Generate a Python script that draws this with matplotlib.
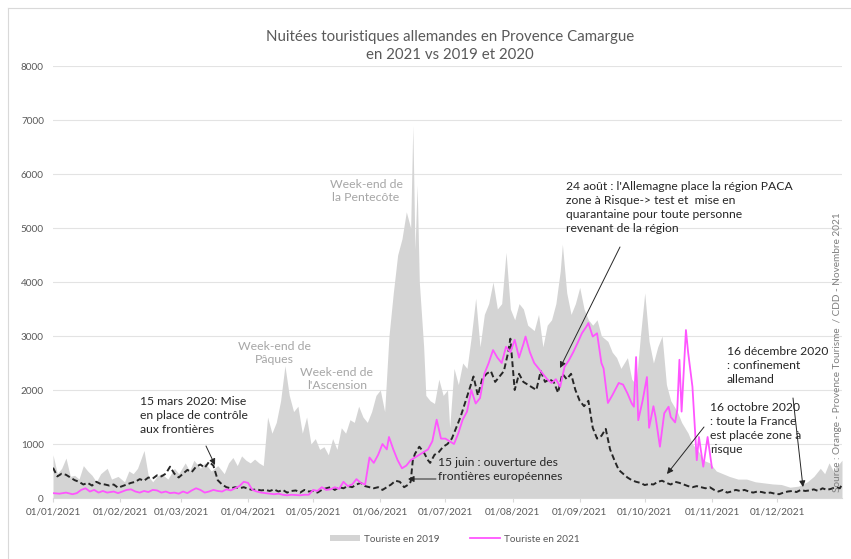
import numpy as np
import matplotlib
matplotlib.use("Agg")
import matplotlib.pyplot as plt
import matplotlib.dates as mdates
from matplotlib.lines import Line2D
from matplotlib.patches import Patch

# ---------------- data (day offset from 1 Jan, value) ----------------
days_2019 = [0, 2, 4, 6, 8, 10, 12, 14, 16, 18, 20, 22, 25, 27, 30, 33, 35, 37, 39, 42, 44, 46, 48, 50,
             53, 56, 58, 61, 63, 65, 68, 70, 73, 76, 79, 81, 83, 85, 87, 89, 91, 93, 95, 97, 99, 101,
             103, 105, 107, 109, 111, 113, 115, 117, 119, 121, 123, 125, 127, 129, 131, 133, 135, 137,
             139, 141, 143, 145, 147, 149, 151, 153, 155, 157, 159, 161, 163, 165, 166, 167, 168, 169,
             171, 172, 174, 176, 178, 180, 182, 183, 185, 187, 189, 191, 193, 195, 197, 199, 201, 203,
             205, 207, 209, 211, 213, 215, 217, 219, 222, 224, 226, 228, 230, 232, 234, 235, 237, 239,
             241, 243, 245, 247, 249, 251, 253, 256, 258, 260, 262, 265, 267, 269, 271, 273, 275, 277,
             279, 281, 283, 285, 288, 290, 293, 295, 298, 300, 303, 306, 309, 312, 316, 320, 324, 328,
             332, 336, 340, 344, 348, 351, 354, 356, 358, 360, 362, 364]
vals_2019 = [800, 450, 550, 740, 400, 420, 350, 600, 500, 420, 300, 450, 550, 350, 400, 300, 500, 450, 550, 880,
             400, 300, 400, 450, 350, 550, 450, 650, 500, 700, 550, 650, 500, 600, 450, 650, 750, 600, 780, 700,
             650, 720, 650, 600, 1500, 1200, 1400, 1800, 2450, 1900, 1600, 1700, 1200, 1500, 1000, 1100, 900,
             950, 800, 1100, 900, 1300, 1200, 1450, 1400, 1700, 1500, 1400, 1600, 1900, 2000, 1600, 3000, 3800,
             4500, 4800, 5300, 5000, 6900, 4600, 5800, 4000, 2800, 1900, 1800, 1750, 2200, 1900, 2000, 1300,
             2400, 2100, 2500, 2400, 3000, 3700, 2800, 3400, 3600, 4000, 3500, 3600, 4550, 3500, 3300, 3600,
             3500, 3200, 3100, 3400, 2800, 3200, 3300, 3600, 4200, 4700, 3800, 3400, 3600, 3900, 3500, 3300,
             3200, 3300, 3000, 2900, 2700, 2600, 2400, 2600, 2200, 2100, 3000, 3800, 2900, 2500, 2800, 3000,
             2100, 1800, 1600, 1400, 1200, 1000, 850, 700, 650, 500, 450, 400, 350, 350, 300, 280, 260, 250,
             200, 220, 300, 400, 550, 450, 650, 500, 600, 700]

days_2020 = [0, 2, 4, 6, 8, 10, 12, 14, 16, 18, 20, 22, 24, 26, 28, 30, 32, 34, 36, 38, 40, 42, 44, 46, 48,
             50, 52, 54, 56, 58, 60, 62, 64, 66, 68, 70, 72, 74, 76, 78, 80, 82, 84, 86, 88, 90, 92, 94, 96,
             98, 100, 102, 104, 106, 108, 110, 112, 114, 116, 118, 120, 122, 124, 126, 128, 130, 132, 134,
             136, 138, 140, 142, 144, 146, 148, 150, 152, 154, 156, 158, 160, 162, 164, 165, 166, 167, 169,
             171, 173, 174, 176, 178, 180, 182, 184, 186, 188, 190, 192, 194, 196, 198, 200, 202, 204, 206,
             208, 210, 211, 213, 215, 217, 219, 221, 223, 225, 227, 229, 231, 233, 235, 237, 239, 241, 243,
             245, 247, 249, 251, 253, 255, 257, 259, 261, 263, 265, 267, 269, 271, 273, 275, 277, 279, 281,
             283, 285, 287, 289, 291, 293, 295, 297, 299, 301, 303, 305, 307, 309, 311, 313, 315, 317, 319,
             321, 323, 325, 327, 329, 331, 333, 335, 337, 339, 341, 343, 345, 347, 349, 351, 353, 355, 357,
             359, 361, 363, 364]
vals_2020 = [560, 400, 450, 430, 380, 330, 300, 250, 280, 230, 300, 260, 250, 230, 250, 190, 220, 250, 280,
             300, 350, 320, 380, 360, 420, 400, 450, 580, 450, 380, 450, 520, 480, 580, 620, 560, 670, 600,
             330, 250, 200, 180, 200, 180, 200, 170, 150, 160, 140, 150, 130, 160, 120, 150, 100, 130, 140,
             100, 150, 120, 130, 100, 150, 180, 200, 150, 200, 180, 220, 200, 250, 280, 220, 200, 180, 200,
             150, 200, 250, 320, 300, 200, 250, 300, 700, 820, 950, 850, 700, 650, 800, 850, 950, 1000, 1100,
             1300, 1500, 1750, 2000, 2250, 1900, 2200, 2300, 2350, 2150, 2250, 2350, 2700, 2950, 2000, 2300,
             2150, 2100, 2050, 2000, 2350, 2150, 2200, 2150, 1950, 2300, 2200, 2300, 2000, 1800, 1700, 1800,
             1300, 1100, 1150, 1280, 900, 700, 520, 450, 380, 330, 300, 280, 240, 260, 250, 300, 320, 280,
             250, 300, 280, 250, 220, 200, 220, 200, 180, 200, 150, 120, 150, 100, 120, 150, 130, 150, 120,
             100, 120, 110, 90, 100, 80, 70, 100, 120, 130, 110, 150, 130, 140, 160, 130, 180, 150, 170, 200,
             180, 250]

days_2021 = [0, 3, 6, 9, 11, 13, 15, 17, 19, 21, 23, 25, 28, 30, 32, 34, 36, 38, 40, 42, 44, 46, 48, 50, 52,
             54, 56, 58, 60, 62, 64, 66, 68, 70, 72, 74, 76, 78, 80, 82, 84, 86, 88, 90, 92, 94, 96, 98, 100,
             102, 104, 106, 108, 110, 112, 114, 116, 118, 120, 122, 124, 126, 128, 130, 132, 134, 136, 138,
             140, 142, 144, 146, 148, 150, 152, 154, 155, 157, 159, 161, 163, 165, 167, 169, 171, 173, 175,
             177, 179, 181, 183, 185, 187, 189, 191, 193, 195, 197, 199, 201, 203, 205, 207, 209, 211, 213,
             215, 217, 218, 220, 222, 224, 226, 228, 230, 232, 234, 236, 238, 240, 242, 244, 246, 247, 249,
             251, 253, 254, 256, 258, 261, 263, 265, 267, 268, 269, 270, 272, 274, 275, 277, 278, 280, 282,
             284, 285, 287, 288, 289, 290, 292, 293, 295, 297, 298, 300, 302, 304]
vals_2021 = [90, 80, 100, 70, 90, 150, 180, 120, 150, 100, 130, 100, 120, 90, 120, 150, 160, 120, 100, 130,
             110, 150, 140, 100, 120, 90, 100, 80, 120, 90, 140, 180, 150, 100, 120, 150, 130, 120, 160, 140,
             180, 220, 300, 280, 150, 120, 100, 90, 80, 70, 80, 60, 50, 60, 55, 50, 60, 60, 150, 130, 200,
             150, 160, 200, 170, 300, 220, 250, 350, 280, 250, 750, 650, 800, 1000, 900, 1130, 900, 700, 550,
             600, 700, 750, 800, 850, 900, 1050, 1450, 1100, 1100, 1050, 1000, 1200, 1450, 1600, 2000, 1750,
             1850, 2300, 2500, 2740, 2600, 2500, 2800, 2700, 2930, 2600, 2850, 2990, 2700, 2500, 2400, 2300,
             2200, 2130, 2200, 2060, 2430, 2550, 2700, 2870, 3050, 3170, 3240, 2990, 3050, 2500, 2400, 1760,
             1900, 2130, 2100, 1940, 1750, 1690, 2610, 1440, 1800, 2240, 1300, 1700, 1500, 950, 1570, 1690,
             1500, 1400, 1630, 2560, 1600, 3110, 2700, 2060, 700, 1130, 580, 1130, 560]

y_ticks = [0, 1000, 2000, 3000, 4000, 5000, 6000, 7000, 8000]
month_starts = ["2021-%02d-01" % m for m in range(1, 13)]

title_text = "Nuitées touristiques allemandes en Provence Camargue\nen 2021 vs 2019 et 2020"
legend_labels = ["Touriste en 2019", "Touriste en 2021"]
source_text = "Source : Orange - Provence Tourisme  / CDD - Novembre 2021"

# ---------------- styling ----------------
W, H = 851, 559
FONT = ["Lato", "DejaVu Sans"]
plt.rcParams["font.family"] = FONT
GRAY_TXT = "#595959"
AREA = "#D4D4D4"
MAGENTA = "#FF55FF"
DARK = "#262626"

start = np.datetime64("2021-01-01")
def to_dates(d):
    return start + np.array(d, dtype="timedelta64[D]")

fig = plt.figure(figsize=(W / 100, H / 100), dpi=100)
fig.patch.set_facecolor("white")

def fx(px):
    return px / W
def fy(py):
    return 1 - py / H

ax = fig.add_axes([fx(53), fy(498), (842 - 53) / W, (498 - 66) / H])

d19 = to_dates(days_2019)
d20 = to_dates(days_2020)
d21 = to_dates(days_2021)

ax.fill_between(d19, 0, vals_2019, color=AREA, linewidth=0, zorder=2)
ax.plot(d20, vals_2020, color=DARK, linewidth=1.4, linestyle=(0, (3, 1.6)), zorder=3)
ax.plot(d21, vals_2021, color=MAGENTA, linewidth=1.3, zorder=4)

ax.set_ylim(0, 8000)
ax.set_xlim(start, np.datetime64("2021-12-31"))
ax.set_yticks(y_ticks)
ax.set_xticks([np.datetime64(m) for m in month_starts])
ax.xaxis.set_major_formatter(mdates.DateFormatter("%d/%m/%Y"))
ax.grid(axis="y", color="#E3E3E3", linewidth=0.8, zorder=0)
ax.set_axisbelow(True)
for s in ["top", "right", "left"]:
    ax.spines[s].set_visible(False)
ax.spines["bottom"].set_color("#D9D9D9")
ax.tick_params(axis="y", length=0, labelsize=7.2, labelcolor=GRAY_TXT, pad=6.5)
ax.tick_params(axis="x", length=3, color="#D9D9D9", labelsize=7.2, labelcolor=GRAY_TXT, pad=4)

# title
fig.text(fx(450), fy(46), title_text, ha="center", va="center", fontsize=10.8,
         color=GRAY_TXT, linespacing=1.3)

# gray annotations (weekends)
for txt, x, y in [("Week-end de\nPâques", 274, 353),
                  ("Week-end de\nl'Ascension", 337, 379),
                  ("Week-end de\nla Pentecôte", 366, 191)]:
    fig.text(fx(x), fy(y), txt, ha="center", va="center", fontsize=8.8,
             color="#A6A6A6", linespacing=1.3)

# black annotations with arrows
def note(txt, x, y):
    fig.text(fx(x), fy(y), txt, ha="left", va="top", fontsize=8.7, color=DARK,
             linespacing=1.32)

def arrow(x0, y0, x1, y1):
    ax.annotate("", xy=(fx(x1), fy(y1)), xycoords="figure fraction",
                xytext=(fx(x0), fy(y0)), textcoords="figure fraction",
                arrowprops=dict(arrowstyle="-|>", color=DARK, lw=0.7,
                                mutation_scale=9, shrinkA=0, shrinkB=0),
                annotation_clip=False, zorder=6)

note("15 mars 2020: Mise\nen place de contrôle\naux frontières", 140, 396)
arrow(206, 446, 215, 465)

note("15 juin : ouverture des\nfrontières européennes", 438, 457)
arrow(436, 479, 408, 479)

note("24 août : l'Allemagne place la région PACA\nzone à Risque-> test et  mise en\n"
     "quarantaine pour toute personne\nrevenant de la région", 566, 181)
arrow(620, 247, 560, 368)

note("16 octobre 2020\n: toute la France\nest placée zone à\nrisque", 710, 402)
arrow(704, 427, 667, 474)

note("16 décembre 2020\n: confinement\nallemand", 727, 346)
arrow(793, 398, 803, 487)

# source vertical text
fig.text(fx(838), fy(352), source_text, rotation=90, ha="center", va="center",
         fontsize=7.2, color="#7F7F7F")

# legend
handles = [Patch(facecolor=AREA, edgecolor="none"),
           Line2D([0], [0], color=MAGENTA, linewidth=1.3)]
fig.legend(handles, legend_labels, loc="center", bbox_to_anchor=(fx(455), fy(539)),
           ncol=2, frameon=False, fontsize=7.2, labelcolor=GRAY_TXT,
           handlelength=3.0, handleheight=0.5, columnspacing=3.0, handletextpad=0.4)

# chart border (left & top)
fig.add_artist(Line2D([fx(8), fx(8)], [0, fy(8)], color="#D9D9D9", linewidth=0.8))
fig.add_artist(Line2D([fx(8), 1], [fy(8), fy(8)], color="#D9D9D9", linewidth=0.8))

fig.savefig("out.png", dpi=100, facecolor="white")
